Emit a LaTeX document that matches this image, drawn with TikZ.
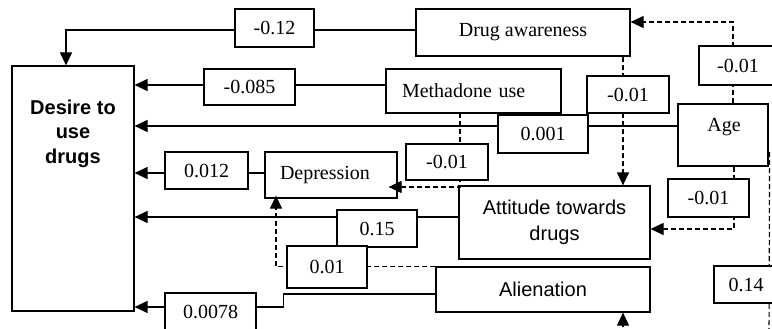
\documentclass[tikz,border=0pt]{standalone}
\usepackage{fontspec}
\setmainfont{Liberation Serif}
\setsansfont{Liberation Sans}
\usetikzlibrary{arrows.meta}
\begin{document}
\begin{tikzpicture}[x=1pt,y=-1pt, font=\fontsize{20}{24}\selectfont,
  box/.style={draw, line width=1.2pt, fill=white, inner sep=0pt},
  lbl/.style={box},
  arr/.style={line width=1.1pt, -{Triangle[length=13pt,width=12pt]}},
  darr/.style={arr, dash pattern=on 5pt off 3pt},
  dline/.style={line width=1.1pt, dash pattern=on 5pt off 3pt}]
\useasboundingbox (0,0) rectangle (772,329);
\clip (0,0) rectangle (772,329);
\fill[white] (0,0) rectangle (772,329);

% main boxes
\node[box, minimum width=122pt, minimum height=245pt] (desire) at (73,188.5) {};
\node[font=\sffamily\bfseries\fontsize{20}{24.5}\selectfont, align=center, inner sep=0pt] (desiretext) at (73,133.5) {Desire to\\use\\drugs};
\node[box, minimum width=214pt, minimum height=47pt] (drugaw) at (523,32.5) {Drug awareness};
\node[box, minimum width=175pt, minimum height=44pt, text width=143pt, inner xsep=16pt, align=left] (methadone) at (473.5,91) {Methadone use};
\node[box, minimum width=90pt, minimum height=62pt] (age) at (723,135) {};
\node[inner sep=0pt] (agetext) at (724,127.5) {Age};
\node[box, minimum width=132pt, minimum height=46pt, text width=102pt, inner xsep=15pt, align=left] (depression) at (331,175) {Depression};
\node[box, minimum width=191pt, minimum height=73pt, align=center, font=\sffamily\fontsize{20}{26}\selectfont] (attitude) at (554.5,222.5) {Attitude towards\\drugs};
\node[box, minimum width=214pt, minimum height=45pt, font=\sffamily\fontsize{20}{24}\selectfont] (alienation) at (543,289.5) {Alienation};

% solid connectors to Desire
\draw[arr] ([yshift=2.5pt]drugaw.west) -| ([xshift=-7pt]desire.north);
\draw[arr] ([yshift=6pt]methadone.west) -- ([yshift=103.5pt]desire.east);
\draw[arr] ([yshift=9pt]age.west) -- ([yshift=62.5pt]desire.east);
\draw[arr] ([yshift=2pt]depression.west) -- ([yshift=15.5pt]desire.east);
\draw[arr] ([yshift=5.5pt]attitude.west) -- ([yshift=-28.5pt]desire.east);
\draw[arr] ([yshift=-4.5pt]alienation.west) -- ++(-152,0) |- ([yshift=-118.5pt]desire.east);

% dashed connectors
\draw[darr] ([xshift=100pt]drugaw.south) -- ([xshift=68.5pt]attitude.north);
\draw[darr] ([xshift=10pt]age.north) |- ([yshift=10.5pt]drugaw.east);
\draw[darr] ([xshift=11pt]age.south) |- ([yshift=-6.5pt]attitude.east);
\draw[darr] ([xshift=59.5pt]methadone.south) -- ([xshift=-13.5pt]methadone.south) |- ([yshift=-12pt,xshift=-9pt]depression.east);
\draw[darr] (alienation.north west) -| ([xshift=-55pt,yshift=3pt]depression.south);
\coordinate (abot) at (623,335);
\draw[darr] (abot) -- ([xshift=80pt]alienation.south);
\coordinate (rbot) at (769,335);
\draw[dline] ([shift={(1pt,-17pt)}]age.east) -- (rbot);

% coefficient labels
\node[lbl, minimum width=79pt, minimum height=38pt] (l1) at (274.5,28) {-0.12};
\node[lbl, minimum width=91pt, minimum height=36pt] (l2) at (249.5,87) {-0.085};
\node[lbl, minimum width=90pt, minimum height=38pt] (l3) at (543,134) {0.001};
\node[lbl, minimum width=82pt, minimum height=37pt] (l4) at (628,94.5) {-0.01};
\node[lbl, minimum width=78pt, minimum height=39pt] (l5) at (738,65.5) {-0.01};
\node[lbl, minimum width=82pt, minimum height=36pt] (l6) at (447,162) {-0.01};
\node[lbl, minimum width=81pt, minimum height=38pt] (l7) at (708.5,198) {-0.01};
\node[lbl, minimum width=83pt, minimum height=37pt] (l8) at (206.5,170.5) {0.012};
\node[lbl, minimum width=80pt, minimum height=37pt] (l9) at (377,228.5) {0.15};
\node[lbl, minimum width=80pt, minimum height=42pt] (l10) at (327,267) {0.01};
\node[lbl, minimum width=91pt, minimum height=38pt] (l11) at (210.5,312) {0.0078};
\node[lbl, minimum width=64pt, minimum height=37pt] (l12) at (746,284.5) {0.14};
\end{tikzpicture}
\end{document}
